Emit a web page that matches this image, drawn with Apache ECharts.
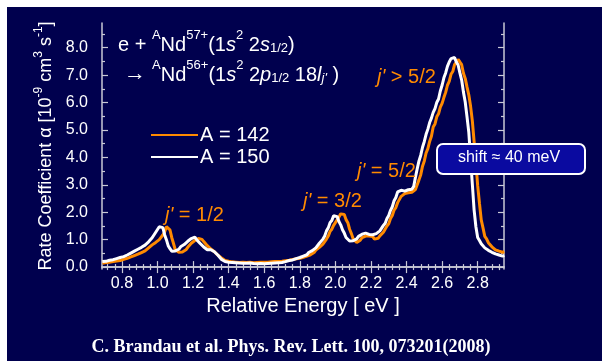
<!DOCTYPE html>
<html>
<head>
<meta charset="utf-8">
<script src="https://cdn.jsdelivr.net/npm/echarts@6/dist/echarts.min.js"></script>
<style>
html,body{margin:0;padding:0;background:#fff;}
#c{width:602px;height:361px;
background:linear-gradient(#fff,#fff) top left/100% 7px no-repeat,linear-gradient(#fff,#fff) top left/7px 100% no-repeat,#00004e;}
</style>
</head>
<body>
<div id="c"></div>
<script>
// Energy grid (eV): uniform sampling from energyStart with energyStep
const energyStart = 0.69;
const energyStep = 0.01;

// Rate coefficient, 10^-9 cm^3 s^-1, A = 142 (orange)
const rate142 = [
0.14,0.10,0.17,0.12,0.18,0.14,0.20,0.15,0.22,0.19,
0.24,0.21,0.28,0.25,0.32,0.29,0.37,0.35,0.42,0.40,
0.47,0.44,0.53,0.50,0.59,0.60,0.70,0.72,0.81,0.80,
0.90,0.89,1.00,1.03,1.17,1.28,1.47,1.46,1.36,1.08,
0.86,0.63,0.60,0.54,0.57,0.55,0.62,0.63,0.72,0.76,
0.87,0.88,0.97,0.96,1.04,1.02,1.01,0.93,0.87,0.78,
0.74,0.66,0.64,0.56,0.52,0.43,0.42,0.33,0.30,0.24,
0.26,0.21,0.24,0.19,0.22,0.18,0.22,0.17,0.21,0.18,
0.22,0.17,0.20,0.18,0.21,0.16,0.20,0.17,0.21,0.18,
0.21,0.18,0.22,0.18,0.23,0.19,0.23,0.20,0.24,0.20,
0.25,0.21,0.26,0.23,0.28,0.25,0.30,0.28,0.33,0.30,
0.35,0.32,0.38,0.36,0.42,0.40,0.46,0.45,0.52,0.53,
0.62,0.63,0.72,0.73,0.84,0.86,1.02,1.13,1.30,1.38,
1.52,1.58,1.72,1.83,1.94,1.94,1.92,1.73,1.62,1.38,
1.22,1.03,1.00,0.90,0.97,0.98,1.07,1.05,1.13,1.09,
1.13,1.09,1.11,1.02,1.07,1.05,1.14,1.15,1.27,1.32,
1.50,1.58,1.77,1.88,2.08,2.17,2.35,2.42,2.58,2.62,
2.68,2.64,2.71,2.67,2.73,2.70,2.83,2.87,3.18,3.37,
3.68,3.87,4.16,4.32,4.58,4.77,5.11,5.22,5.48,5.59,
5.83,5.97,6.18,6.37,6.63,6.77,7.03,7.13,7.38,7.47,
7.57,7.48,7.38,7.07,6.88,6.57,6.28,5.87,5.33,4.57,
3.83,2.97,2.33,1.72,1.43,1.12,1.03,0.89,0.84,0.74,
0.72,0.63,0.64,0.58,0.60,0.54,0.56
];

// Rate coefficient, A = 150 (white)
const rate150 = [
0.20,0.16,0.21,0.18,0.25,0.22,0.27,0.25,0.31,0.28,
0.35,0.33,0.38,0.38,0.44,0.42,0.51,0.49,0.58,0.55,
0.65,0.62,0.72,0.72,0.80,0.83,0.92,0.96,1.07,1.13,
1.27,1.33,1.47,1.53,1.44,1.18,1.00,0.78,0.67,0.58,
0.61,0.59,0.66,0.65,0.74,0.73,0.82,0.83,0.94,0.95,
1.04,1.04,1.09,1.00,0.97,0.86,0.82,0.73,0.72,0.63,
0.66,0.63,0.64,0.56,0.52,0.43,0.40,0.28,0.27,0.20,
0.23,0.18,0.21,0.17,0.20,0.16,0.20,0.15,0.19,0.14,
0.18,0.14,0.17,0.15,0.17,0.13,0.17,0.12,0.16,0.13,
0.16,0.12,0.17,0.13,0.18,0.14,0.18,0.15,0.18,0.16,
0.21,0.17,0.23,0.20,0.26,0.24,0.28,0.26,0.33,0.31,
0.37,0.35,0.42,0.40,0.47,0.45,0.53,0.52,0.60,0.60,
0.70,0.73,0.87,0.90,1.02,1.13,1.32,1.43,1.62,1.70,
1.87,1.88,1.84,1.66,1.54,1.36,1.24,1.08,1.02,0.95,
0.99,0.96,1.02,1.03,1.12,1.12,1.20,1.18,1.24,1.17,
1.19,1.13,1.18,1.16,1.22,1.23,1.32,1.36,1.52,1.60,
1.77,1.88,2.07,2.20,2.42,2.54,2.74,2.74,2.80,2.73,
2.77,2.75,2.82,2.77,2.84,2.93,3.27,3.58,3.87,4.08,
4.37,4.58,4.84,5.03,5.27,5.43,5.64,5.78,6.00,6.13,
6.42,6.63,6.90,7.08,7.32,7.48,7.60,7.63,7.64,7.48,
7.37,7.08,6.82,6.38,6.02,5.48,4.92,3.98,3.02,2.08,
1.47,1.08,0.97,0.85,0.80,0.70,0.69,0.61,0.61,0.54,
0.55,0.48,0.50,0.44,0.46,0.40,0.42
];

const xMajorTicks = [0.8,1.0,1.2,1.4,1.6,1.8,2.0,2.2,2.4,2.6,2.8];
const xMinorTicks = [0.72,0.76,0.84,0.88,0.92,0.96,1.04,1.08,1.12,1.16,1.24,1.28,1.32,1.36,1.44,1.48,1.52,1.56,1.64,1.68,1.72,1.76,1.84,1.88,1.92,1.96,2.04,2.08,2.12,2.16,2.24,2.28,2.32,2.36,2.44,2.48,2.52,2.56,2.64,2.68,2.72,2.76,2.84,2.88,2.92];
const yMajorTicks = [0,1,2,3,4,5,6,7,8];
const yMinorTicks = [0.5,1.5,2.5,3.5,4.5,5.5,6.5,7.5,8.5];

const seriesNames = ['A = 142','A = 150'];
const ORANGE = '#ff8a00';

const toPairs = arr => arr.map((v,i)=>[+(energyStart + i*energyStep).toFixed(2), v]);

const X_MIN = 0.688, X_MAX = 2.948, Y_MIN = -0.07, Y_MAX = 8.9;
const AX = '#c9c9d6';
const FONT = '"Liberation Sans", Arial, sans-serif';

function xAx(pos, ticks, len, labels, line){
  return {type:'value', position:pos, min:X_MIN, max:X_MAX,
    axisLine:{show:line, lineStyle:{color:AX,width:1.5}},
    axisTick:{show:true, inside:true, length:len, customValues:ticks, lineStyle:{color:AX,width:1.2}},
    axisLabel:{show:labels, customValues:ticks, color:'#fff', fontSize:16, fontFamily:FONT, margin:7,
      formatter:v=>v.toFixed(1)},
    splitLine:{show:false},
    name: labels ? 'Relative Energy [ eV ]' : '',
    nameLocation:'middle', nameGap:27,
    nameTextStyle:{color:'#fff', fontSize:20, fontFamily:FONT, verticalAlign:'top'}
  };
}
function yAx(pos, ticks, len, labels, line){
  return {type:'value', position:pos, min:Y_MIN, max:Y_MAX,
    axisLine:{show:line, lineStyle:{color:AX,width:1.5}},
    axisTick:{show:true, inside:true, length:len, customValues:ticks, lineStyle:{color:AX,width:1.2}},
    axisLabel:{show:labels, customValues:ticks, color:'#fff', fontSize:16, fontFamily:FONT, margin:14,
      formatter:v=>v.toFixed(1)},
    splitLine:{show:false},
    name: labels ? '{n|Rate Coefficient α [10}{s|-9}{n| cm}{s|3}{n| s}{s|-1}{n|]}' : '',
    nameLocation:'middle', nameGap:47, nameRotate:90,
    nameTextStyle:{color:'#fff', fontFamily:FONT,
      rich:{n:{fontSize:18, color:'#fff', fontFamily:FONT, lineHeight:22, verticalAlign:'bottom'},
            s:{fontSize:12, color:'#fff', fontFamily:FONT, lineHeight:22, verticalAlign:'top'}}}
  };
}

const richBase = {
  n:{fontSize:20, fill:'#fff', fontFamily:FONT, lineHeight:26, verticalAlign:'bottom'},
  a:{fontSize:22, fill:'#fff', fontFamily:FONT, lineHeight:26, verticalAlign:'bottom'},
  i:{fontSize:20, fill:'#fff', fontFamily:FONT, fontStyle:'italic', lineHeight:26, verticalAlign:'bottom'},
  u:{fontSize:13, fill:'#fff', fontFamily:FONT, lineHeight:26, verticalAlign:'top'},
  d:{fontSize:13, fill:'#fff', fontFamily:FONT, lineHeight:22, verticalAlign:'bottom'},
  di:{fontSize:13, fill:'#fff', fontFamily:FONT, fontStyle:'italic', lineHeight:22, verticalAlign:'bottom'}
};
const richJ = {
  n:{fontSize:20, fill:ORANGE, fontFamily:FONT},
  i:{fontSize:20, fill:ORANGE, fontFamily:FONT, fontStyle:'italic'}
};

const chart = echarts.init(document.getElementById('c'), null, {renderer:'canvas'});
chart.setOption({
  backgroundColor:'transparent',
  animation:false,
  grid:{left:102, right:98, top:23, bottom:92},
  xAxis:[xAx('bottom',xMajorTicks,6,true,true), xAx('bottom',xMinorTicks,3,false,false),
         xAx('top',xMajorTicks,6,false,true), xAx('top',xMinorTicks,3,false,false)],
  yAxis:[yAx('left',yMajorTicks,6,true,true), yAx('left',yMinorTicks,3,false,false),
         yAx('right',yMajorTicks,6,false,true), yAx('right',yMinorTicks,3,false,false)],
  legend:{orient:'vertical', left:146, top:120, itemWidth:47, itemHeight:2, itemGap:2, icon:'rect',
    textStyle:{color:'#fff', fontSize:20, fontFamily:FONT, lineHeight:20, padding:[0,0,0,-3]},
    data:seriesNames},
  series:[
    {name:seriesNames[0], type:'line', symbol:'none', data:toPairs(rate142),
     lineStyle:{color:ORANGE, width:3}, itemStyle:{color:ORANGE}, z:2},
    {name:seriesNames[1], type:'line', symbol:'none', data:toPairs(rate150),
     lineStyle:{color:'#ffffff', width:3}, itemStyle:{color:'#ffffff'}, z:3}
  ],
  graphic:[
    {type:'text', left:118, top:29, z:10, style:{
      text:'{n|e + }{u|A}{n|Nd}{u|57+}{n|(1}{i|s}{u|2}{n| 2}{i|s}{d|1/2}{n|)}', rich:richBase}},
    {type:'text', left:124, top:59, z:10, style:{
      text:'{a|→ }{u|A}{n|Nd}{u|56+}{n|(1}{i|s}{u|2}{n| 2}{i|p}{d|1/2}{n| 18}{i|l}{di|j\'}{n| )}', rich:richBase}},
    {type:'text', left:165, top:205, z:10, style:{text:'{i|j\'}{n| = 1/2}', rich:richJ}},
    {type:'text', left:303, top:191, z:10, style:{text:'{i|j\'}{n| = 3/2}', rich:richJ}},
    {type:'text', left:357, top:161, z:10, style:{text:'{i|j\'}{n| = 5/2}', rich:richJ}},
    {type:'text', left:377, top:67, z:10, style:{text:'{i|j\'}{n| > 5/2}', rich:richJ}},
    {type:'rect', left:436, top:143, z:20, shape:{width:148, height:30, r:6},
      style:{fill:'#0a0aa0', stroke:'#fff', lineWidth:2}},
    {type:'text', x:509, y:158, z:21, style:{text:'shift ≈ 40 meV', fill:'#fff',
      font:'16px '+FONT, align:'center', verticalAlign:'middle'}},
    {type:'text', x:291, y:347, z:10, style:{text:'C. Brandau et al. Phys. Rev. Lett. 100, 073201(2008)',
      fill:'#fff', font:'bold 18px "Liberation Serif", "Times New Roman", serif', align:'center', verticalAlign:'middle'}}
  ]
});
</script>
</body>
</html>
